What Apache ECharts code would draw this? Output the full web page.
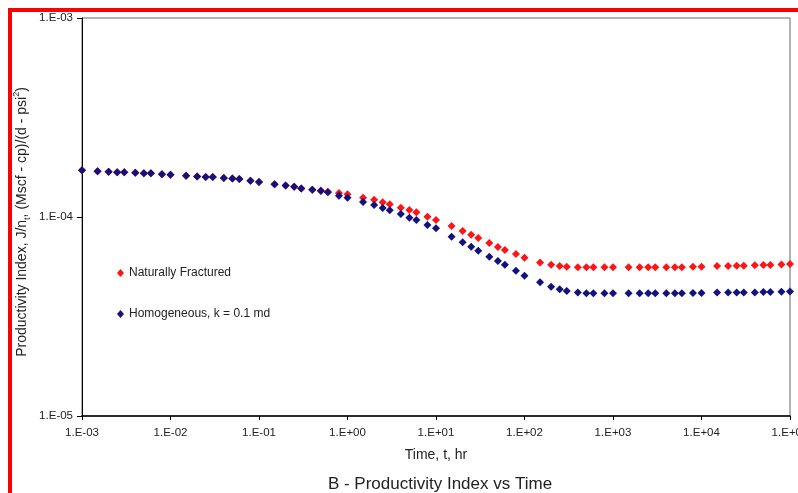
<!DOCTYPE html>
<html>
<head>
<meta charset="utf-8">
<script src="https://cdn.jsdelivr.net/npm/echarts@6/dist/echarts.min.js"></script>
<style>
html,body{margin:0;padding:0;background:#fff;}
#chart{width:798px;height:493px;}
</style>
</head>
<body>
<div id="chart"></div>
<script>
// Time, hr
var timeHr = [
  0.001,0.0015,0.002,0.0025,0.003,0.004,0.005,0.006,0.008,
  0.01,0.015,0.02,0.025,0.03,0.04,0.05,0.06,0.08,
  0.1,0.15,0.2,0.25,0.3,0.4,0.5,0.6,0.8,
  1,1.5,2,2.5,3,4,5,6,8,
  10,15,20,25,30,40,50,60,80,
  100,150,200,250,300,400,500,600,800,
  1000,1500,2000,2500,3000,4000,5000,6000,8000,
  10000,15000,20000,25000,30000,40000,50000,60000,80000,
  100000
];
// Naturally Fractured
var naturallyFractured = [
  1.72e-4,1.70e-4,1.69e-4,1.68e-4,1.68e-4,1.67e-4,1.66e-4,1.66e-4,1.64e-4,
  1.63e-4,1.61e-4,1.60e-4,1.59e-4,1.59e-4,1.57e-4,1.56e-4,1.55e-4,1.52e-4,
  1.50e-4,1.46e-4,1.44e-4,1.42e-4,1.39e-4,1.37e-4,1.36e-4,1.34e-4,1.32e-4,
  1.30e-4,1.25e-4,1.22e-4,1.185e-4,1.158e-4,1.113e-4,1.084e-4,1.056e-4,1.003e-4,
  9.66e-5,9.01e-5,8.51e-5,8.15e-5,7.84e-5,7.40e-5,7.07e-5,6.83e-5,6.52e-5,
  6.24e-5,5.91e-5,5.75e-5,5.67e-5,5.63e-5,5.59e-5,5.59e-5,5.59e-5,5.59e-5,
  5.59e-5,5.59e-5,5.59e-5,5.59e-5,5.59e-5,5.59e-5,5.59e-5,5.59e-5,5.63e-5,
  5.63e-5,5.67e-5,5.67e-5,5.69e-5,5.69e-5,5.72e-5,5.74e-5,5.74e-5,5.78e-5,
  5.80e-5
];
// Homogeneous, k = 0.1 md
var homogeneous = [
  1.72e-4,1.70e-4,1.69e-4,1.68e-4,1.68e-4,1.67e-4,1.66e-4,1.66e-4,1.64e-4,
  1.63e-4,1.61e-4,1.60e-4,1.59e-4,1.59e-4,1.57e-4,1.56e-4,1.55e-4,1.52e-4,
  1.50e-4,1.46e-4,1.44e-4,1.42e-4,1.39e-4,1.37e-4,1.35e-4,1.33e-4,1.28e-4,
  1.25e-4,1.19e-4,1.15e-4,1.11e-4,1.08e-4,1.035e-4,9.92e-5,9.66e-5,9.12e-5,
  8.78e-5,7.96e-5,7.46e-5,7.09e-5,6.77e-5,6.32e-5,6.01e-5,5.76e-5,5.37e-5,
  5.07e-5,4.70e-5,4.46e-5,4.33e-5,4.25e-5,4.17e-5,4.14e-5,4.14e-5,4.14e-5,
  4.14e-5,4.14e-5,4.14e-5,4.14e-5,4.14e-5,4.14e-5,4.14e-5,4.14e-5,4.15e-5,
  4.15e-5,4.17e-5,4.17e-5,4.18e-5,4.18e-5,4.18e-5,4.20e-5,4.20e-5,4.21e-5,
  4.22e-5
];
var seriesNames = ['Naturally Fractured', 'Homogeneous, k = 0.1 md'];

function pairs(xs, ys) {
  var out = [];
  for (var i = 0; i < xs.length; i++) out.push([xs[i], ys[i]]);
  return out;
}
function sciLabel(v) {
  var e = Math.round(Math.log10(v));
  var s = e < 0 ? '-' : '+';
  var a = Math.abs(e);
  return '1.E' + s + (a < 10 ? '0' + a : '' + a);
}

var FONT = '"Liberation Sans", Arial, sans-serif';
var chart = echarts.init(document.getElementById('chart'), null, {renderer: 'canvas'});
chart.setOption({
  animation: false,
  backgroundColor: '#ffffff',
  textStyle: {fontFamily: FONT},
  grid: {left: 82, right: 8, top: 18, bottom: 77, containLabel: false, outerBoundsMode: 'none',
         show: true, borderColor: '#666', borderWidth: 1, backgroundColor: 'transparent'},
  legend: {
    orient: 'vertical',
    left: 112,
    top: 261,
    itemWidth: 7,
    itemHeight: 8,
    itemGap: 27,
    icon: 'diamond',
    textStyle: {fontSize: 12, color: '#222', fontFamily: FONT, lineHeight: 14},
    data: seriesNames
  },
  xAxis: {
    type: 'log',
    logBase: 10,
    min: 0.001,
    max: 100000,
    interval: 1,
    axisLine: {show: true, lineStyle: {color: '#000', width: 1.5}},
    axisTick: {show: true, length: 4, lineStyle: {color: '#000'}},
    axisLabel: {fontSize: 11.5, color: '#222', margin: 11, formatter: sciLabel, showMaxLabel: true, showMinLabel: true, hideOverlap: false},
    splitLine: {show: false},
    minorTick: {show: false}
  },
  yAxis: {
    type: 'log',
    logBase: 10,
    min: 0.00001,
    max: 0.001,
    interval: 1,
    axisLine: {show: true, lineStyle: {color: '#000', width: 1}},
    axisTick: {show: true, length: 5, lineStyle: {color: '#000'}},
    axisLabel: {fontSize: 11.5, color: '#222', margin: 9, formatter: sciLabel},
    splitLine: {show: false}
  },
  series: [
    {
      name: seriesNames[0],
      type: 'scatter',
      symbol: 'diamond',
      symbolSize: 8,
      itemStyle: {color: '#ff1414', opacity: 1},
      data: pairs(timeHr, naturallyFractured)
    },
    {
      name: seriesNames[1],
      type: 'scatter',
      symbol: 'diamond',
      symbolSize: 8,
      itemStyle: {color: '#12127e', opacity: 1},
      data: pairs(timeHr, homogeneous)
    }
  ],
  graphic: [
    {
      type: 'rect',
      silent: true,
      shape: {x: 10, y: 10, width: 900, height: 600},
      style: {fill: 'none', stroke: '#ff0000', lineWidth: 4}
    },
    {
      type: 'text',
      x: 22, y: 222,
      rotation: Math.PI / 2,
      style: {
        text: '{m|Productivity Index, J/n}{s|t}{m|, (Mscf - cp)/(d - psi}{p|2}{m|)}',
        align: 'center',
        verticalAlign: 'middle',
        fill: '#222',
        font: '14px ' + FONT,
        rich: {
          m: {fontSize: 14, lineHeight: 20, fill: '#222', fontFamily: FONT, verticalAlign: 'middle'},
          s: {fontSize: 9, lineHeight: 20, fill: '#222', fontFamily: FONT, verticalAlign: 'bottom'},
          p: {fontSize: 9, lineHeight: 20, fill: '#222', fontFamily: FONT, verticalAlign: 'top'}
        }
      }
    },
    {
      type: 'text',
      x: 436, y: 455,
      style: {text: 'Time, t, hr', align: 'center', verticalAlign: 'middle', fill: '#222', font: '14px ' + FONT}
    },
    {
      type: 'text',
      x: 440, y: 484,
      style: {text: 'B - Productivity Index vs Time', align: 'center', verticalAlign: 'middle', fill: '#222', font: '17px ' + FONT}
    }
  ]
});
</script>
</body>
</html>
